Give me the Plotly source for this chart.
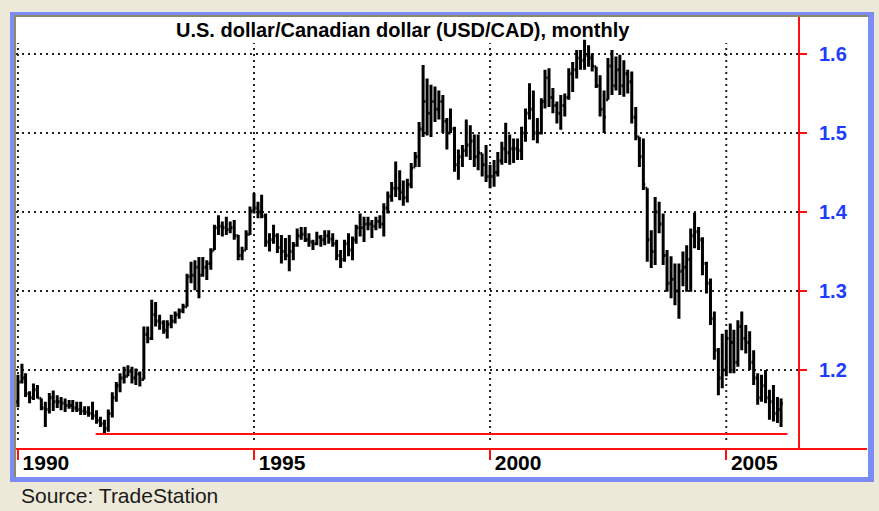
import pandas as pd
import plotly.graph_objects as go

# ---------------- data (USD/CAD monthly OHLC, Jan 1990 - Mar 2006) ----------------
start_month = "1990-01-01"

opens = [
    1.160, 1.185, 1.190, 1.170, 1.165, 1.175, 1.164, 1.152, 1.150, 1.165, 1.160, 1.160,
    1.158, 1.155, 1.155, 1.152, 1.150, 1.148, 1.147, 1.145, 1.142, 1.136, 1.132, 1.126,
    1.145, 1.165, 1.180, 1.190, 1.192, 1.198, 1.190, 1.195, 1.188, 1.245, 1.240, 1.270,
    1.262, 1.260, 1.250, 1.258, 1.262, 1.270, 1.275, 1.280, 1.318, 1.320, 1.330, 1.320,
    1.330, 1.335, 1.352, 1.380, 1.382, 1.380, 1.378, 1.380, 1.370, 1.345, 1.352, 1.372,
    1.402, 1.405, 1.400, 1.395, 1.362, 1.365, 1.370, 1.355, 1.350, 1.345, 1.350, 1.358,
    1.370, 1.372, 1.365, 1.362, 1.360, 1.368, 1.365, 1.370, 1.366, 1.360, 1.345, 1.340,
    1.360, 1.352, 1.365, 1.380, 1.380, 1.385, 1.385, 1.382, 1.388, 1.385, 1.405, 1.420,
    1.430, 1.430, 1.425, 1.418, 1.435, 1.457, 1.470, 1.505, 1.540, 1.525, 1.540, 1.530,
    1.540, 1.515, 1.500, 1.505, 1.460, 1.470, 1.478, 1.485, 1.490, 1.470, 1.474, 1.460,
    1.445, 1.445, 1.450, 1.465, 1.480, 1.475, 1.480, 1.480, 1.478, 1.500, 1.525, 1.530,
    1.500, 1.500, 1.540, 1.570, 1.545, 1.535, 1.525, 1.535, 1.545, 1.575, 1.580, 1.595,
    1.592, 1.598, 1.595, 1.584, 1.560, 1.530, 1.542, 1.585, 1.560, 1.580, 1.560, 1.575,
    1.565, 1.520, 1.495, 1.470, 1.430, 1.365, 1.350, 1.400, 1.385, 1.345, 1.310, 1.315,
    1.300, 1.325, 1.330, 1.340, 1.370, 1.375, 1.365, 1.335, 1.310, 1.265, 1.225, 1.190,
    1.200, 1.240, 1.235, 1.210, 1.255, 1.240, 1.235, 1.210, 1.190, 1.165, 1.180, 1.165,
    1.160, 1.145, 1.150,
]

highs = [
    1.194, 1.208, 1.196, 1.173, 1.183, 1.181, 1.164, 1.160, 1.171, 1.174, 1.168, 1.166,
    1.164, 1.162, 1.162, 1.160, 1.160, 1.154, 1.154, 1.160, 1.149, 1.141, 1.137, 1.150,
    1.172, 1.185, 1.196, 1.204, 1.206, 1.204, 1.202, 1.198, 1.255, 1.255, 1.289, 1.286,
    1.270, 1.263, 1.263, 1.270, 1.274, 1.278, 1.284, 1.322, 1.337, 1.339, 1.343, 1.343,
    1.339, 1.354, 1.384, 1.396, 1.388, 1.394, 1.388, 1.390, 1.371, 1.356, 1.377, 1.407,
    1.424, 1.413, 1.422, 1.398, 1.373, 1.384, 1.373, 1.371, 1.367, 1.371, 1.362, 1.379,
    1.381, 1.381, 1.373, 1.365, 1.375, 1.371, 1.377, 1.377, 1.373, 1.365, 1.352, 1.365,
    1.373, 1.369, 1.384, 1.398, 1.394, 1.394, 1.390, 1.394, 1.396, 1.411, 1.426, 1.438,
    1.464, 1.453, 1.440, 1.442, 1.462, 1.476, 1.514, 1.586, 1.569, 1.561, 1.559, 1.554,
    1.548, 1.519, 1.531, 1.508, 1.479, 1.485, 1.517, 1.510, 1.498, 1.498, 1.474, 1.485,
    1.460, 1.466, 1.476, 1.489, 1.513, 1.498, 1.493, 1.493, 1.508, 1.531, 1.563, 1.554,
    1.519, 1.544, 1.580, 1.582, 1.557, 1.540, 1.548, 1.550, 1.582, 1.590, 1.605, 1.605,
    1.618, 1.611, 1.601, 1.584, 1.573, 1.554, 1.595, 1.605, 1.597, 1.599, 1.592, 1.580,
    1.578, 1.533, 1.495, 1.493, 1.430, 1.377, 1.419, 1.413, 1.398, 1.352, 1.344, 1.335,
    1.335, 1.350, 1.358, 1.379, 1.399, 1.381, 1.368, 1.337, 1.316, 1.274, 1.228, 1.246,
    1.251, 1.259, 1.251, 1.263, 1.274, 1.257, 1.249, 1.225, 1.196, 1.194, 1.200, 1.175,
    1.181, 1.166, 1.164,
]

lows = [
    1.153, 1.183, 1.166, 1.158, 1.162, 1.164, 1.149, 1.128, 1.145, 1.148, 1.152, 1.149,
    1.147, 1.151, 1.147, 1.147, 1.143, 1.143, 1.141, 1.137, 1.132, 1.128, 1.120, 1.122,
    1.140, 1.160, 1.172, 1.183, 1.192, 1.183, 1.181, 1.179, 1.188, 1.234, 1.238, 1.255,
    1.251, 1.246, 1.240, 1.253, 1.259, 1.265, 1.272, 1.280, 1.310, 1.301, 1.291, 1.318,
    1.314, 1.327, 1.352, 1.371, 1.369, 1.371, 1.373, 1.365, 1.339, 1.339, 1.352, 1.371,
    1.398, 1.392, 1.392, 1.356, 1.350, 1.360, 1.348, 1.335, 1.339, 1.325, 1.339, 1.356,
    1.365, 1.362, 1.356, 1.352, 1.358, 1.356, 1.358, 1.360, 1.356, 1.339, 1.329, 1.337,
    1.344, 1.339, 1.360, 1.369, 1.362, 1.377, 1.367, 1.377, 1.379, 1.369, 1.398, 1.413,
    1.419, 1.415, 1.408, 1.412, 1.430, 1.457, 1.457, 1.495, 1.497, 1.495, 1.514, 1.517,
    1.500, 1.479, 1.500, 1.451, 1.441, 1.457, 1.470, 1.466, 1.457, 1.453, 1.445, 1.438,
    1.430, 1.432, 1.445, 1.460, 1.462, 1.460, 1.462, 1.466, 1.466, 1.489, 1.517, 1.491,
    1.487, 1.498, 1.531, 1.533, 1.525, 1.512, 1.504, 1.521, 1.542, 1.552, 1.569, 1.580,
    1.580, 1.584, 1.578, 1.557, 1.521, 1.500, 1.542, 1.548, 1.554, 1.548, 1.546, 1.550,
    1.512, 1.491, 1.457, 1.428, 1.337, 1.329, 1.333, 1.373, 1.333, 1.299, 1.291, 1.282,
    1.265, 1.306, 1.299, 1.299, 1.354, 1.352, 1.320, 1.297, 1.257, 1.213, 1.168, 1.177,
    1.192, 1.196, 1.196, 1.204, 1.225, 1.221, 1.200, 1.181, 1.156, 1.160, 1.158, 1.137,
    1.135, 1.133, 1.128,
]

closes = [
    1.185, 1.190, 1.170, 1.165, 1.175, 1.165, 1.152, 1.150, 1.165, 1.160, 1.160, 1.158,
    1.155, 1.155, 1.152, 1.150, 1.148, 1.147, 1.145, 1.142, 1.136, 1.132, 1.126, 1.145,
    1.165, 1.180, 1.190, 1.192, 1.198, 1.190, 1.195, 1.188, 1.245, 1.240, 1.270, 1.262,
    1.260, 1.250, 1.258, 1.262, 1.270, 1.275, 1.280, 1.318, 1.320, 1.330, 1.320, 1.330,
    1.335, 1.350, 1.380, 1.382, 1.380, 1.378, 1.380, 1.370, 1.345, 1.350, 1.372, 1.402,
    1.405, 1.400, 1.395, 1.362, 1.365, 1.370, 1.355, 1.350, 1.345, 1.350, 1.358, 1.370,
    1.372, 1.365, 1.362, 1.360, 1.368, 1.365, 1.370, 1.366, 1.360, 1.345, 1.340, 1.360,
    1.352, 1.365, 1.380, 1.380, 1.385, 1.385, 1.382, 1.388, 1.385, 1.405, 1.420, 1.430,
    1.430, 1.425, 1.418, 1.435, 1.455, 1.470, 1.505, 1.540, 1.525, 1.540, 1.530, 1.540,
    1.515, 1.500, 1.505, 1.460, 1.470, 1.478, 1.485, 1.490, 1.470, 1.475, 1.460, 1.445,
    1.445, 1.450, 1.465, 1.480, 1.475, 1.480, 1.480, 1.478, 1.500, 1.525, 1.530, 1.500,
    1.500, 1.540, 1.570, 1.545, 1.535, 1.525, 1.535, 1.545, 1.575, 1.580, 1.595, 1.592,
    1.598, 1.595, 1.585, 1.560, 1.530, 1.520, 1.585, 1.560, 1.580, 1.560, 1.575, 1.565,
    1.520, 1.495, 1.470, 1.435, 1.365, 1.350, 1.400, 1.385, 1.345, 1.310, 1.315, 1.300,
    1.325, 1.330, 1.340, 1.370, 1.375, 1.365, 1.335, 1.310, 1.265, 1.225, 1.190, 1.200,
    1.240, 1.235, 1.210, 1.255, 1.240, 1.235, 1.210, 1.190, 1.165, 1.180, 1.165, 1.160,
    1.145, 1.150, 1.158,
]

x_tick_values = ["1990-01-01", "1995-01-01", "2000-01-01", "2005-01-01"]
x_tick_labels = ["1990", "1995", "2000", "2005"]
y_tick_values = [1.2, 1.3, 1.4, 1.5, 1.6]
y_tick_labels = ["1.2", "1.3", "1.4", "1.5", "1.6"]

support_level = 1.119
support_start = "1991-08-25"
support_end = "2006-04-20"

title_text = "U.S. dollar/Canadian dollar (USD/CAD), monthly"
source_text = "Source: TradeStation"

dates = pd.date_range(start_month, periods=len(closes), freq="MS")

# ---------------- layout geometry ----------------
W, H = 879, 511
PL, PR, PT, PB = 16, 798, 38, 448          # plot area in pixels


def px(xp):
    return (xp - PL) / (PR - PL)


def py(yp):
    return (PB - yp) / (PB - PT)


FONT = "Liberation Sans, Arial, Helvetica, sans-serif"
RED = "#FF1010"
BLUE = "#1E3CFF"
BEIGE = "#ECE9D8"
GRID = "#222222"
GRID_DASH = "2px,4px"

fig = go.Figure()
fig.add_trace(go.Ohlc(
    x=dates, open=opens, high=highs, low=lows, close=closes,
    increasing=dict(line=dict(color="black", width=3)),
    decreasing=dict(line=dict(color="black", width=3)),
    tickwidth=0.5, showlegend=False, name="USD/CAD",
))

shapes = [
    # window frame
    dict(type="rect", xref="paper", yref="paper", layer="below",
         x0=px(10), x1=px(874), y0=py(482), y1=py(12),
         fillcolor="#7B8CF6", line=dict(width=0)),
    dict(type="rect", xref="paper", yref="paper", layer="below",
         x0=px(14), x1=px(868), y0=py(477), y1=py(15),
         fillcolor="#8A8A68", line=dict(width=0)),
    dict(type="rect", xref="paper", yref="paper", layer="below",
         x0=px(16), x1=px(868), y0=py(477), y1=py(17),
         fillcolor="white", line=dict(width=0)),
]
# vertical dotted grid at the year ticks (stopping below the title)
for tv in x_tick_values:
    shapes.append(dict(type="line", xref="x", yref="paper", layer="below",
                       x0=tv, x1=tv, y0=py(440), y1=py(43),
                       line=dict(color=GRID, width=2, dash=GRID_DASH)))
shapes += [
    # axis line extensions
    dict(type="line", xref="paper", yref="paper", layer="above",
         x0=px(799), x1=px(799), y0=1, y1=py(17), line=dict(color=RED, width=2)),
    dict(type="line", xref="paper", yref="paper", layer="above",
         x0=1, x1=px(867), y0=py(449), y1=py(449), line=dict(color=RED, width=2)),
    # support line
    dict(type="line", xref="x", yref="y", layer="above",
         x0=support_start, x1=support_end, y0=support_level, y1=support_level,
         line=dict(color=RED, width=2)),
]

annotations = [
    dict(text=title_text, xref="paper", yref="paper", x=px(402.5), y=py(30),
         xanchor="center", yanchor="middle", showarrow=False,
         font=dict(family=FONT, size=20, color="black", weight="bold")),
    dict(text=source_text, xref="paper", yref="paper", x=px(19), y=py(495),
         xanchor="left", yanchor="middle", showarrow=False,
         font=dict(family=FONT, size=21, color="#1A1A1A")),
]

fig.update_layout(
    width=W, height=H, autosize=False,
    margin=dict(l=PL, r=W - PR, t=PT, b=H - PB, pad=0, autoexpand=False),
    paper_bgcolor=BEIGE, plot_bgcolor="rgba(0,0,0,0)",
    font=dict(family=FONT),
    shapes=shapes, annotations=annotations,
    showlegend=False,
    xaxis=dict(
        type="date", range=["1989-12-17", "2006-07-10"],
        rangeslider=dict(visible=False), automargin=False,
        tickmode="array", tickvals=x_tick_values, ticktext=x_tick_labels,
        ticks="outside", ticklen=10, tickwidth=2, tickcolor=RED,
        showline=True, linecolor=RED, linewidth=2,
        showgrid=False, zeroline=False,
        tickfont=dict(family=FONT, size=21, color="black", weight="bold"),
        ticklabelshift=28, ticklabelstandoff=-15,
    ),
    yaxis=dict(
        side="right", range=[1.1013, 1.6203], automargin=False,
        tickmode="array", tickvals=y_tick_values, ticktext=y_tick_labels,
        ticks="outside", ticklen=7, tickwidth=2, tickcolor=RED,
        showline=True, linecolor=RED, linewidth=2,
        showgrid=True, gridcolor=GRID, gridwidth=2, griddash=GRID_DASH,
        zeroline=False,
        tickfont=dict(family=FONT, size=20, color=BLUE, weight="bold"),
        ticklabelstandoff=8,
    ),
)

fig.write_html(
    "out.html",
    config={"displayModeBar": False},
    post_script="document.body.style.margin='0';document.body.style.background='%s';" % BEIGE,
)
